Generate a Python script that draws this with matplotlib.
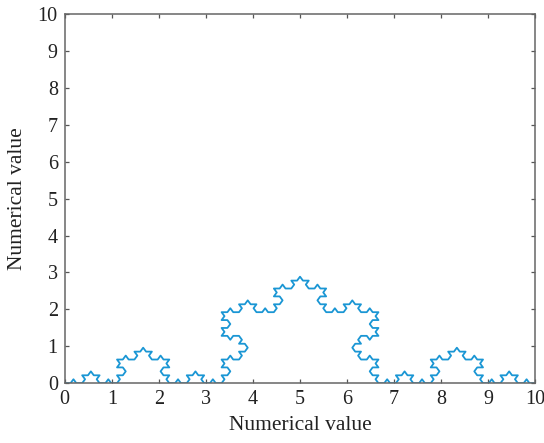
import numpy as np
import matplotlib
matplotlib.use('Agg')
import matplotlib.pyplot as plt

# Koch curve between two end points (the chart is this curve)
startPoint = [0.0, 0.0]
endPoint = [10.0, 0.0]
LEVEL = 4
turns = [60, -120, 60]   # Koch rule: F+F--F+F

xTicks = list(range(0, 11))
yTicks = list(range(0, 11))

# build the turtle path from the rule
moves = [0]
for _ in range(LEVEL):
    newMoves = []
    for a in moves:
        newMoves.append(a)
        for t in turns:
            newMoves.append(t)
    moves = newMoves

step = (endPoint[0] - startPoint[0]) / (3 ** LEVEL)
xs = [startPoint[0]]
ys = [startPoint[1]]
heading = 0.0
for a in moves:
    heading += a
    xs.append(xs[-1] + step * np.cos(np.radians(heading)))
    ys.append(ys[-1] + step * np.sin(np.radians(heading)))

plt.rcParams['font.family'] = ['Liberation Serif', 'DejaVu Serif']

fig = plt.figure(figsize=(5.44, 4.43), dpi=100)
ax = fig.add_axes([0.119, 0.135, 0.865, 0.833])

ax.plot(xs, ys, color='#1a96d4', linewidth=1.3)
ax.set_xlim(0, 10)
ax.set_ylim(0, 10)
ax.set_xticks(xTicks)
ax.set_yticks(yTicks)
ax.tick_params(direction='in', top=True, right=True, labelsize=14.5, length=3,
               width=0.9, color='#555555', labelcolor='#222222', pad=5)
for s in ax.spines.values():
    s.set_color('#666666')
    s.set_linewidth(1.1)
ax.set_xlabel('Numerical value', fontsize=15.5, labelpad=5, color='#222222')
ax.set_ylabel('Numerical value', fontsize=15.5, labelpad=8, color='#222222')

fig.savefig('out.png', dpi=100)
